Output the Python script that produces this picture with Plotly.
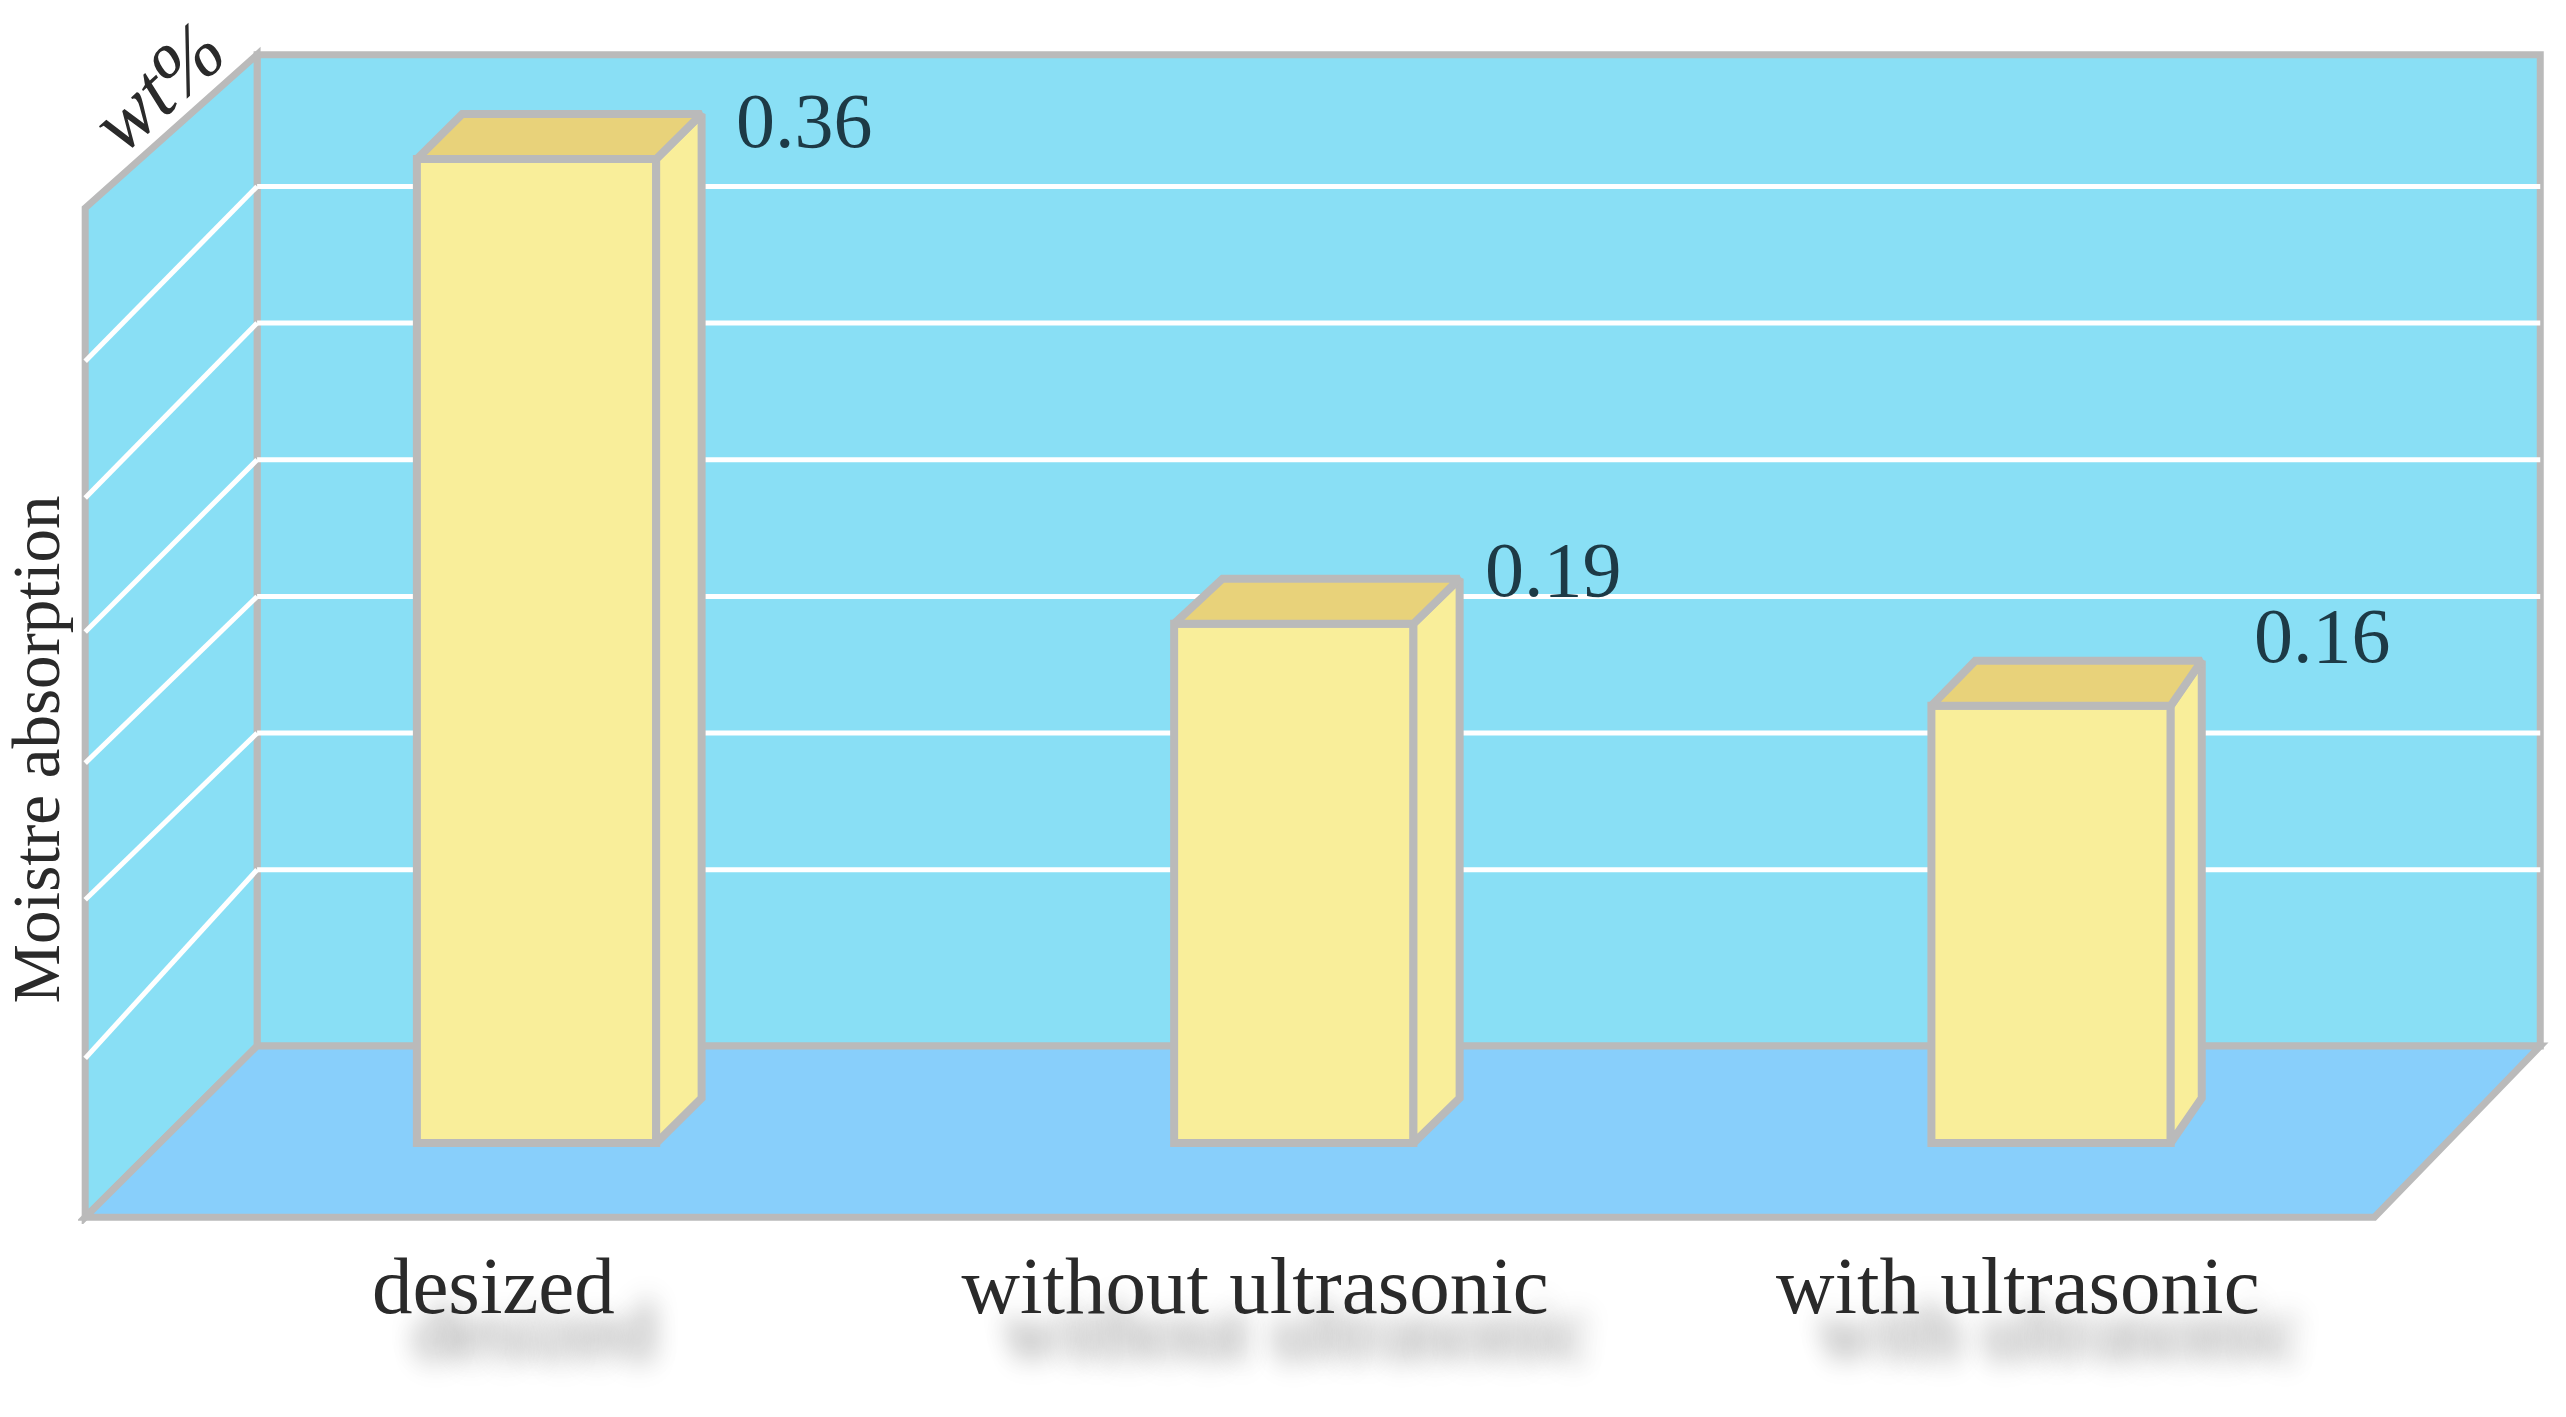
import plotly.graph_objects as go

categories = ["desized", "without ultrasonic", "with ultrasonic"]
moisture = [0.36, 0.19, 0.16]
value_labels = ["0.36", "0.19", "0.16"]
grid_back = [0.10, 0.15, 0.20, 0.25, 0.30, 0.35]
grid_front = [0.031, 0.089, 0.139, 0.187, 0.236, 0.286]

GREY = "#BABABA"
WALL = "#89DFF5"
FLOOR = "#88CFFB"
FACE = "#F9EE9A"
TOP = "#E8D27A"
SERIF = "Liberation Serif"

BAR_WIDTH = 0.316
EDGE = 7
BAR_EDGE = 8

# the fake 3d box, in axis units
LEFT_FRONT, LEFT_BACK = -0.596, -0.369
RIGHT_FRONT, RIGHT_BACK = 2.427, 2.646
FLOOR_FRONT, FLOOR_BACK = -0.0271, 0.0355
TOP_LEFT, TOP_BACK = 0.3421, 0.3982

# depth of each block, in axis units
DEPTH_Y = 0.0165
DEPTH_LEFT = [0.060, 0.064, 0.058]
DEPTH_RIGHT = [0.060, 0.061, 0.041]

LABEL_SHIFT = [0.057, 0.051, 0.044]
VALUE_XSHIFT = [78, 70, 81]
VALUE_YSHIFT = [39, 54, 70]


def poly(points):
    return "M " + " L ".join(f"{x} {y}" for x, y in points) + " Z"


def wall(points, color):
    return dict(type="path", path=poly(points), xref="x", yref="y", layer="below",
                fillcolor=color, line=dict(color=GREY, width=EDGE))


def grid(x0, y0, x1, y1):
    return dict(type="line", x0=x0, y0=y0, x1=x1, y1=y1, xref="x", yref="y", layer="below",
                line=dict(color="white", width=5))


shapes = [
    wall([(LEFT_BACK, TOP_BACK), (RIGHT_BACK, TOP_BACK), (RIGHT_BACK, FLOOR_BACK), (LEFT_BACK, FLOOR_BACK)], WALL),
    wall([(LEFT_FRONT, TOP_LEFT), (LEFT_BACK, TOP_BACK), (LEFT_BACK, FLOOR_BACK), (LEFT_FRONT, FLOOR_FRONT)], WALL),
    wall([(LEFT_FRONT, FLOOR_FRONT), (LEFT_BACK, FLOOR_BACK), (RIGHT_BACK, FLOOR_BACK), (RIGHT_FRONT, FLOOR_FRONT)], FLOOR),
]
for back, front in zip(grid_back, grid_front):
    shapes.append(grid(LEFT_BACK, back, RIGHT_BACK, back))
    shapes.append(grid(LEFT_FRONT, front, LEFT_BACK, back))

positions = list(range(len(categories)))

fig = go.Figure()
fig.add_trace(go.Bar(x=positions, y=moisture, width=BAR_WIDTH,
                     marker=dict(color=FACE, line=dict(color=GREY, width=BAR_EDGE)),
                     showlegend=False))

for i, value in enumerate(moisture):
    left = positions[i] - BAR_WIDTH / 2
    right = positions[i] + BAR_WIDTH / 2
    fig.add_trace(go.Scatter(
        x=[right, right + DEPTH_RIGHT[i], right + DEPTH_RIGHT[i], right, right],
        y=[0, DEPTH_Y, value + DEPTH_Y, value, 0],
        mode="lines", fill="toself", fillcolor=FACE,
        line=dict(color=GREY, width=BAR_EDGE), showlegend=False, hoverinfo="skip"))
    fig.add_trace(go.Scatter(
        x=[left, left + DEPTH_LEFT[i], right + DEPTH_RIGHT[i], right, left],
        y=[value, value + DEPTH_Y, value + DEPTH_Y, value, value],
        mode="lines", fill="toself", fillcolor=TOP,
        line=dict(color=GREY, width=BAR_EDGE), showlegend=False, hoverinfo="skip"))
    fig.add_annotation(x=right, y=value, text=value_labels[i], showarrow=False,
                       xanchor="left", yanchor="middle",
                       xshift=VALUE_XSHIFT[i], yshift=VALUE_YSHIFT[i],
                       font=dict(family=SERIF, size=78, color="#1D3A46"))

fig.add_annotation(xref="paper", x=0, y=0.144, text="Moistre absorption", showarrow=False,
                   textangle=-90, xanchor="center", yanchor="middle", xshift=-42,
                   font=dict(family=SERIF, size=67, color="#2A2A2A"))
fig.add_annotation(xref="paper", yref="paper", x=0, y=1, text="wt%", showarrow=False,
                   textangle=-42, xanchor="center", yanchor="middle", xshift=80, yshift=-86,
                   font=dict(family=SERIF, size=82, style="italic", color="#2A2A2A"))

fig.update_layout(
    width=2566, height=1417,
    margin=dict(l=78, r=0, t=0, b=193),
    paper_bgcolor="white", plot_bgcolor="white",
    shapes=shapes, showlegend=False,
    xaxis=dict(range=[-0.6055, 2.68], showgrid=False, zeroline=False, showline=False,
               tickmode="array",
               tickvals=[p - s for p, s in zip(positions, LABEL_SHIFT)],
               ticktext=categories, ticks="", ticklabelstandoff=7,
               tickfont=dict(family=SERIF, size=81, color="#2A2A2A",
                             shadow="42px 40px 26px rgba(0,0,0,0.3), 42px 52px 26px rgba(0,0,0,0.2)")),
    yaxis=dict(range=[-0.0296, 0.4182], showgrid=False, zeroline=False, showline=False,
               showticklabels=False, ticks=""),
)

fig.write_html("out.html", config=dict(displayModeBar=False),
               post_script="document.body.style.margin='0';")
